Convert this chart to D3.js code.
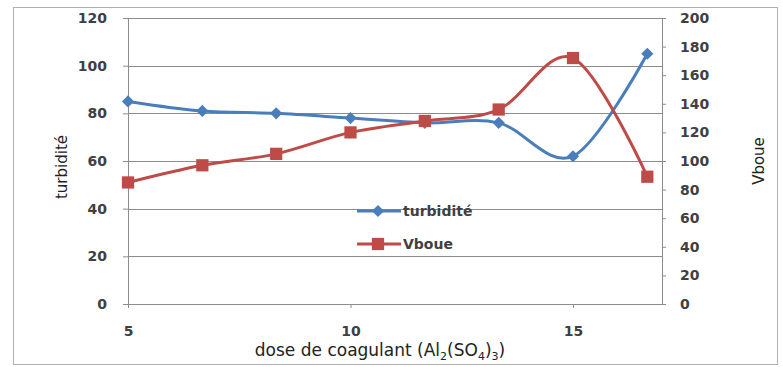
<!DOCTYPE html>
<html>
<head>
<meta charset="utf-8">
<script src="https://cdn.jsdelivr.net/npm/d3@7"></script>
<style>
    body { margin: 0; background: #fff; }
    svg { display: block; }
    .tick text { font-family: "DejaVu Sans", sans-serif; font-weight: bold; font-size: 14px; fill: #404040; }
</style>
</head>
<body>
<div id="chart"></div>
<script>
// ---------- data ----------
const dose = [5, 6.67, 8.33, 10, 11.67, 13.33, 15, 16.67];
const turbidite = [85, 81, 80, 78, 76, 76, 62, 105];
const vboue = [85, 97, 105, 120, 128, 136, 172, 89];
const leftTicks = [0, 20, 40, 60, 80, 100, 120];
const rightTicks = [0, 20, 40, 60, 80, 100, 120, 140, 160, 180, 200];
const xTicks = [5, 10, 15];

const width = 783, height = 367;
const margin = { left: 128, right: 121, top: 18, bottom: 63 };
const blue = '#4a7ebb', red = '#be4b48', grid = '#8c8c8c';

const svg = d3.select('#chart').append('svg')
    .attr('width', width)
    .attr('height', height);

// outer frame
svg.append('rect')
    .attr('x', 13.5).attr('y', 7.5)
    .attr('width', 764).attr('height', 357)
    .attr('fill', 'none')
    .attr('stroke', '#b0b0b0');

const x = d3.scaleLinear().domain([5, 17]).range([margin.left, width - margin.right]);
const yL = d3.scaleLinear().domain([0, 120]).range([height - margin.bottom, margin.top]);
const yR = d3.scaleLinear().domain([0, 200]).range([height - margin.bottom, margin.top]);

// gridlines
svg.append('g')
    .selectAll('line')
    .data(leftTicks.slice(1))
    .enter().append('line')
    .attr('x1', x(5)).attr('x2', x(17))
    .attr('y1', d => Math.round(yL(d)) + 0.5)
    .attr('y2', d => Math.round(yL(d)) + 0.5)
    .attr('stroke', grid)
    .attr('stroke-width', 1);

// axes
const styleAxis = g => {
    g.select('.domain').attr('stroke', grid);
    g.selectAll('.tick line').attr('stroke', grid);
};

svg.append('g')
    .attr('transform', `translate(${x(5)},0)`)
    .call(d3.axisLeft(yL).tickValues(leftTicks).tickSize(5).tickSizeOuter(0).tickPadding(16))
    .call(styleAxis);

svg.append('g')
    .attr('transform', `translate(${x(17)},0)`)
    .call(d3.axisRight(yR).tickValues(rightTicks).tickSize(4).tickSizeOuter(0).tickPadding(14))
    .call(styleAxis);

svg.append('g')
    .attr('transform', `translate(0,${yL(0)})`)
    .call(d3.axisBottom(x).tickValues(xTicks).tickSize(4).tickSizeOuter(0).tickPadding(18))
    .call(styleAxis);

// lines
const lineL = d3.line().x((d, i) => x(dose[i])).y(d => yL(d)).curve(d3.curveCardinal.tension(0));
const lineR = d3.line().x((d, i) => x(dose[i])).y(d => yR(d)).curve(d3.curveCardinal.tension(0));

svg.append('path')
    .datum(turbidite)
    .attr('d', lineL)
    .attr('fill', 'none')
    .attr('stroke', blue)
    .attr('stroke-width', 3);

svg.append('path')
    .datum(vboue)
    .attr('d', lineR)
    .attr('fill', 'none')
    .attr('stroke', red)
    .attr('stroke-width', 3);

const diamond = d3.symbol().type(d3.symbolDiamond2).size(95);
const square = d3.symbol().type(d3.symbolSquare).size(150);

svg.append('g').selectAll('path')
    .data(turbidite)
    .enter().append('path')
    .attr('d', diamond)
    .attr('transform', (d, i) => `translate(${x(dose[i])},${yL(d)})`)
    .attr('fill', blue);

svg.append('g').selectAll('path')
    .data(vboue)
    .enter().append('path')
    .attr('d', square)
    .attr('transform', (d, i) => `translate(${x(dose[i])},${yR(d)})`)
    .attr('fill', red);

// legend
const legend = [
    { name: 'turbidité', color: blue, sym: diamond, y: 211 },
    { name: 'Vboue', color: red, sym: square, y: 244 }
];
const lg = svg.append('g').selectAll('g')
    .data(legend)
    .enter().append('g')
    .attr('transform', d => `translate(357,${d.y})`);
lg.append('line')
    .attr('x1', 0).attr('x2', 44)
    .attr('stroke', d => d.color)
    .attr('stroke-width', 3);
lg.append('path')
    .attr('d', d => d.sym())
    .attr('transform', 'translate(21,0)')
    .attr('fill', d => d.color);
lg.append('text')
    .attr('x', 46).attr('dy', '0.35em')
    .style('font-family', '"DejaVu Sans", sans-serif')
    .style('font-weight', 'bold')
    .style('font-size', '14px')
    .attr('fill', '#404040')
    .text(d => d.name);

// axis titles
const midY = (yL(0) + yL(120)) / 2;
svg.append('text')
    .attr('transform', `translate(67,${midY + 6}) rotate(-90)`)
    .attr('text-anchor', 'middle')
    .style('font-family', '"DejaVu Sans", sans-serif')
    .style('font-size', '15px')
    .attr('fill', '#222')
    .text('turbidité');

svg.append('text')
    .attr('transform', `translate(764,${midY}) rotate(-90)`)
    .attr('text-anchor', 'middle')
    .style('font-family', '"DejaVu Sans", sans-serif')
    .style('font-size', '15px')
    .attr('fill', '#222')
    .text('Vboue');

const xt = svg.append('text')
    .attr('x', 380).attr('y', 356)
    .attr('text-anchor', 'middle')
    .style('font-family', '"DejaVu Sans", sans-serif')
    .style('font-size', '17px')
    .attr('fill', '#222');
xt.append('tspan').text('dose de coagulant (Al');
xt.append('tspan').attr('dy', 4).style('font-size', '11px').text('2');
xt.append('tspan').attr('dy', -4).text('(SO');
xt.append('tspan').attr('dy', 4).style('font-size', '11px').text('4');
xt.append('tspan').attr('dy', -4).text(')');
xt.append('tspan').attr('dy', 4).style('font-size', '11px').text('3');
xt.append('tspan').attr('dy', -4).text(')');
</script>
</body>
</html>
